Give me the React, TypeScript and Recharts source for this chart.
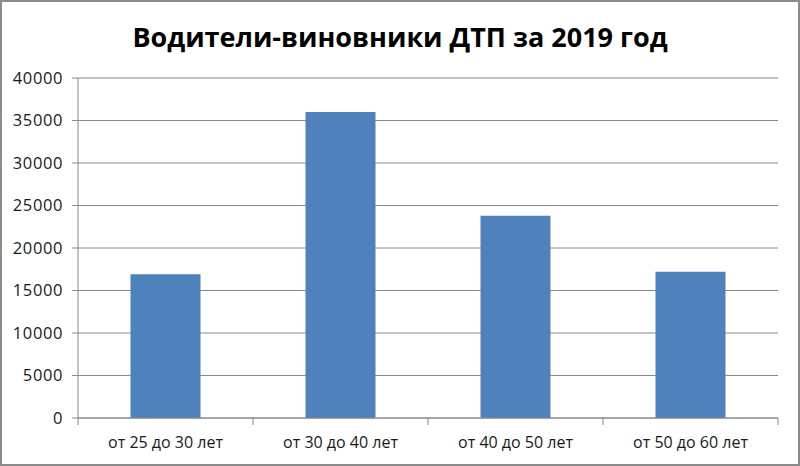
import React from 'react';
import { BarChart, Bar, XAxis, YAxis, CartesianGrid } from 'recharts';

// Age groups and number of at-fault drivers
const categories = ['от 25 до 30 лет', 'от 30 до 40 лет', 'от 40 до 50 лет', 'от 50 до 60 лет'];
const drivers = [16900, 36000, 23800, 17200];
const yTicks = [0, 5000, 10000, 15000, 20000, 25000, 30000, 35000, 40000];

const data = categories.map((name, i) => ({ name, value: drivers[i] }));

const GRID = '#888888';
const TEXT = '#1a1a1a';
const FONT = '"Open Sans", "Liberation Sans", sans-serif';

// category label in the middle, tick marks on the band edges (Excel style)
const CategoryTick = (props: any) => {
  const { x, y, payload, index, visibleTicksCount } = props;
  const half = payload?.offset ?? 0;
  const last = index === visibleTicksCount - 1;
  return (
    <g>
      <line x1={x - half} x2={x - half} y1={y} y2={y + 7} stroke={GRID} />
      {last && <line x1={x + half} x2={x + half} y1={y} y2={y + 7} stroke={GRID} />}
      <text x={x} y={y + 30} textAnchor="middle" fill={TEXT} fontSize={16} fontFamily={FONT}>
        {payload.value}
      </text>
    </g>
  );
};

const App: React.FC = () => {
  return (
    <div
      style={{
        position: 'absolute',
        left: 0,
        top: 0,
        width: 800,
        height: 466,
        boxSizing: 'border-box',
        border: '2px solid #8c8c8c',
        background: '#fff',
        fontFamily: FONT,
        overflow: 'hidden',
      }}
    >
      <div
        style={{
          position: 'absolute',
          left: 0,
          top: 15,
          width: 796,
          textAlign: 'center',
          fontSize: 27,
          fontWeight: 700,
          color: '#000',
          lineHeight: '40px',
        }}
      >
        Водители-виновники ДТП за 2019 год
      </div>
      <div style={{ position: 'absolute', left: -2, top: -2 }}>
        <BarChart
          width={800}
          height={466}
          data={data}
          margin={{ top: 78, right: 22, left: 0, bottom: 0 }}
          barCategoryGap="30%"
        >
          <CartesianGrid vertical={false} stroke={GRID} strokeWidth={1} />
          <XAxis
            dataKey="name"
            height={48}
            tickLine={false}
            tickSize={0}
            tickMargin={0}
            axisLine={{ stroke: GRID }}
            tick={<CategoryTick />}
            interval={0}
          />
          <YAxis
            width={78}
            domain={[0, 40000]}
            ticks={yTicks}
            interval={0}
            tickSize={6}
            tickMargin={9}
            axisLine={{ stroke: GRID }}
            tickLine={{ stroke: GRID }}
            tick={{ fill: TEXT, fontSize: 16.5, fontFamily: FONT, letterSpacing: 0.6 }}
          />
          <Bar dataKey="value" fill="#4f81bd" isAnimationActive={false} />
        </BarChart>
      </div>
    </div>
  );
};

export default App;
